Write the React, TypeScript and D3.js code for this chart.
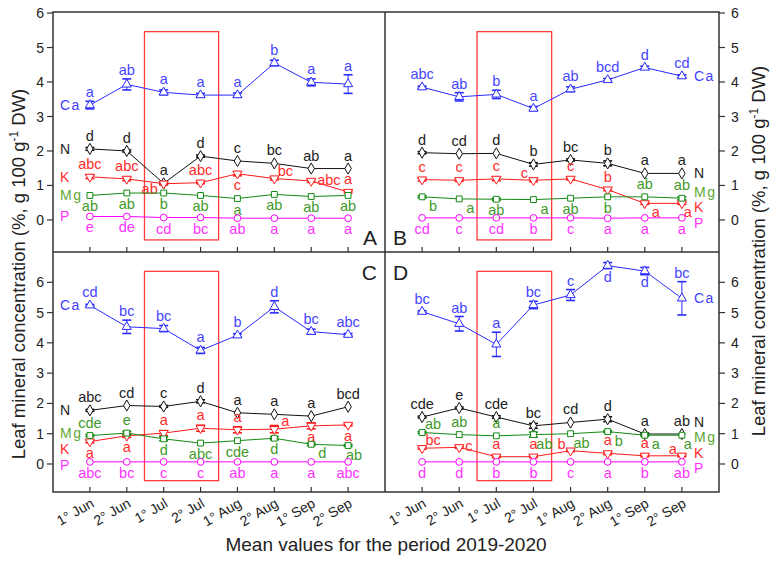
import React, { useEffect, useRef } from "react";
import * as d3 from "d3";

// sampling periods (x axis)
const periods = ["1° Jun", "2° Jun", "1° Jul", "2° Jul", "1° Aug", "2° Aug", "1° Sep", "2° Sep"];
const yTicks = [0, 1, 2, 3, 4, 5, 6];

// panel A
const caA = [3.33, 3.93, 3.7, 3.62, 3.62, 4.55, 3.99, 3.94];
const caAErr = [0.11, 0.16, 0.07, 0.05, 0.06, 0.08, 0.1, 0.27];
const caALet = ["a", "ab", "a", "a", "a", "b", "a", "a"];
const nA = [2.06, 2.0, 1.06, 1.85, 1.71, 1.64, 1.49, 1.49];
const nAErr = [0.04, 0.03, 0.03, 0.03, 0.02, 0.02, 0.02, 0.02];
const nALet = ["d", "d", "a", "d", "c", "bc", "ab", "a"];
const kA = [1.25, 1.19, 1.05, 1.08, 1.34, 1.2, 1.13, 0.81];
const kAErr = [0.05, 0.05, 0.03, 0.03, 0.06, 0.04, 0.04, 0.03];
const kALet = ["abc", "abc", "ab", "abc", "c", "bc", "abc", "a"];
const mgA = [0.71, 0.78, 0.78, 0.71, 0.62, 0.74, 0.68, 0.71];
const mgAErr = [0.02, 0.02, 0.02, 0.02, 0.02, 0.02, 0.02, 0.02];
const mgALet = ["ab", "ab", "b", "ab", "a", "ab", "ab", "ab"];
const pA = [0.1, 0.1, 0.07, 0.07, 0.05, 0.05, 0.05, 0.05];
const pALet = ["e", "de", "cd", "bc", "ab", "a", "a", "a"];

// panel B
const caB = [3.85, 3.57, 3.64, 3.23, 3.79, 4.06, 4.42, 4.17];
const caBErr = [0.03, 0.12, 0.12, 0.06, 0.07, 0.04, 0.04, 0.04];
const caBLet = ["abc", "ab", "b", "a", "ab", "bcd", "d", "cd"];
const nB = [1.95, 1.92, 1.93, 1.61, 1.74, 1.64, 1.35, 1.35];
const nBErr = [0.03, 0.02, 0.02, 0.05, 0.03, 0.07, 0.02, 0.02];
const nBLet = ["d", "cd", "d", "b", "bc", "b", "a", "a"];
const kB = [1.17, 1.15, 1.19, 1.15, 1.19, 0.88, 0.48, 0.48];
const kBErr = [0.04, 0.03, 0.05, 0.04, 0.03, 0.03, 0.03, 0.03];
const kBLet = ["c", "c", "c", "c", "c", "b", "a", "a"];
const mgB = [0.67, 0.61, 0.6, 0.59, 0.63, 0.67, 0.67, 0.63];
const mgBErr = [0.03, 0.02, 0.03, 0.02, 0.02, 0.02, 0.02, 0.04];
const mgBLet = ["b", "a", "ab", "a", "ab", "b", "ab", "ab"];
const pB = [0.06, 0.06, 0.06, 0.06, 0.06, 0.05, 0.06, 0.06];
const pBLet = ["cd", "c", "cd", "b", "c", "a", "a", "a"];

// panel C
const caC = [5.24, 4.53, 4.47, 3.75, 4.25, 5.19, 4.37, 4.27];
const caCErr = [0.03, 0.22, 0.1, 0.1, 0.05, 0.2, 0.08, 0.04];
const caCLet = ["cd", "bc", "bc", "a", "b", "d", "bc", "abc"];
const nC = [1.77, 1.93, 1.9, 2.07, 1.69, 1.64, 1.58, 1.89];
const nCErr = [0.03, 0.02, 0.03, 0.05, 0.02, 0.02, 0.02, 0.02];
const nCLet = ["abc", "cd", "c", "d", "a", "a", "a", "bcd"];
const kC = [0.74, 0.93, 1.02, 1.18, 1.13, 1.15, 1.26, 1.29];
const kCErr = [0.04, 0.05, 0.08, 0.1, 0.1, 0.12, 0.1, 0.03];
const kCLet = ["a", "a", "a", "a", "a", "a", "a", "a"];
const mgC = [0.94, 1.02, 0.83, 0.69, 0.77, 0.85, 0.65, 0.61];
const mgCErr = [0.03, 0.06, 0.06, 0.02, 0.02, 0.05, 0.04, 0.03];
const mgCLet = ["cde", "e", "d", "abc", "cde", "d", "d", "ab"];
const pC = [0.07, 0.07, 0.07, 0.07, 0.07, 0.07, 0.07, 0.07];
const pCLet = ["abc", "bc", "c", "c", "ab", "a", "a", "abc"];

// panel D
const caD = [5.03, 4.63, 3.95, 5.25, 5.58, 6.55, 6.37, 5.47];
const caDErr = [0.03, 0.24, 0.4, 0.12, 0.18, 0.1, 0.12, 0.55];
const caDLet = ["bc", "ab", "a", "bc", "c", "d", "d", "bc"];
const nD = [1.55, 1.85, 1.55, 1.26, 1.37, 1.48, 0.99, 0.99];
const nDErr = [0.03, 0.03, 0.04, 0.08, 0.02, 0.08, 0.03, 0.02];
const nDLet = ["cde", "e", "cde", "bc", "cd", "d", "a", "ab"];
const kD = [0.52, 0.55, 0.24, 0.24, 0.44, 0.35, 0.27, 0.27];
const kDErr = [0.03, 0.03, 0.03, 0.03, 0.03, 0.04, 0.03, 0.03];
const kDLet = ["bc", "c", "a", "a", "b", "a", "a", "a"];
const mgD = [1.04, 0.97, 0.93, 0.97, 1.0, 1.07, 0.95, 0.95];
const mgDErr = [0.03, 0.02, 0.02, 0.08, 0.02, 0.03, 0.03, 0.02];
const mgDLet = ["ab", "ab", "a", "ab", "ab", "b", "a", "a"];
const pD = [0.07, 0.07, 0.07, 0.07, 0.07, 0.07, 0.07, 0.07];
const pDLet = ["d", "d", "b", "b", "c", "a", "b", "ab"];

// highlighted period (1° Jul - 2° Jul)
const boxX = [1.48, 3.49];

const FONT = "Arial, 'Liberation Sans', sans-serif";

const styles = {
  Ca: { line: "#2a2aff", text: "#4646ff", sym: "tri" },
  N: { line: "#111111", text: "#222222", sym: "dia" },
  K: { line: "#ff1a1a", text: "#ff2b2b", sym: "tridown" },
  Mg: { line: "#138a13", text: "#3f9a2a", sym: "sq" },
  P: { line: "#ff00ff", text: "#ff33ff", sym: "circ" },
};
const labelColor = { Ca: "#4040ff", N: "#222222", K: "#ff2b2b", Mg: "#5ea832", P: "#ff33ff" };

const T = (n: number) => Array(n).fill("t");
const B = (n: number) => Array(n).fill("b");

// letter placement per panel (layout only)
const place = {
  A: { Ca: T(8), N: T(8), K: ["t", "t", "bl", "t", "b", "tr", "r", "t"], Mg: B(8), P: B(8) },
  B: { Ca: T(8), N: T(8), K: ["t", "t", "t", "tl", "t", "t", "br", "br"], Mg: ["br", "br", "b", "br", "b", "b", "t", "t"], P: B(8) },
  C: { Ca: T(8), N: T(8), K: ["b", "b", "t", "t", "t", "tr", "b", "b"], Mg: ["t", "t", "b", "b", "b", "b", "br", "br"], P: B(8) },
  D: { Ca: ["t", "t", "t", "t", "t", "b", "b", "t"], N: T(8), K: ["tr", "r", "t", "t", "tl", "t", "t", "tl"], Mg: ["tr", "t", "t", "br", "br", "br", "br", "br"], P: B(8) },
};
const labelDy = {
  A: { Ca: 0, N: 0, K: 0, Mg: 0, P: 0 },
  B: { Ca: 0, N: 0, K: 4, Mg: -6, P: 5 },
  C: { Ca: 0, N: 0, K: 8, Mg: -2, P: 3 },
  D: { Ca: 0, N: -12, K: -3, Mg: 2, P: 6 },
};

const zeros = Array(8).fill(0);

const panels = [
  {
    id: "A", col: 0, row: 0, labelSide: "left",
    series: [
      { name: "Ca", v: caA, e: caAErr, l: caALet },
      { name: "N", v: nA, e: nAErr, l: nALet },
      { name: "K", v: kA, e: kAErr, l: kALet },
      { name: "Mg", v: mgA, e: mgAErr, l: mgALet },
      { name: "P", v: pA, e: zeros, l: pALet },
    ],
  },
  {
    id: "B", col: 1, row: 0, labelSide: "right",
    series: [
      { name: "Ca", v: caB, e: caBErr, l: caBLet },
      { name: "N", v: nB, e: nBErr, l: nBLet },
      { name: "K", v: kB, e: kBErr, l: kBLet },
      { name: "Mg", v: mgB, e: mgBErr, l: mgBLet },
      { name: "P", v: pB, e: zeros, l: pBLet },
    ],
  },
  {
    id: "C", col: 0, row: 1, labelSide: "left",
    series: [
      { name: "Ca", v: caC, e: caCErr, l: caCLet },
      { name: "N", v: nC, e: nCErr, l: nCLet },
      { name: "K", v: kC, e: kCErr, l: kCLet },
      { name: "Mg", v: mgC, e: mgCErr, l: mgCLet },
      { name: "P", v: pC, e: zeros, l: pCLet },
    ],
  },
  {
    id: "D", col: 1, row: 1, labelSide: "right",
    series: [
      { name: "Ca", v: caD, e: caDErr, l: caDLet },
      { name: "N", v: nD, e: nDErr, l: nDLet },
      { name: "K", v: kD, e: kDErr, l: kDLet },
      { name: "Mg", v: mgD, e: mgDErr, l: mgDLet },
      { name: "P", v: pD, e: zeros, l: pDLet },
    ],
  },
];

const App = () => {
  const ref = useRef<SVGSVGElement>(null);
  const width = 770;
  const height = 567;

  useEffect(() => {
    const svg = d3.select(ref.current);
    svg.selectAll("*").remove();

    const left = 53, mid = 385, right = 719;
    const top = 12, midY = 252, bottom = 492;

    const xScales = [
      d3.scaleLinear().domain([-1, 8]).range([left, mid]),
      d3.scaleLinear().domain([-1, 8]).range([mid, right]),
    ];
    const yScales = [
      d3.scaleLinear().domain([-0.93, 6.03]).range([midY, top]),
      d3.scaleLinear().domain([-0.925, 7.0]).range([bottom, midY]),
    ];
    const boxY = [[-0.58, 5.46], [-0.55, 6.36]];

    const symFor = (s: string) => {
      if (s === "tri" || s === "tridown") return d3.symbol().type(d3.symbolTriangle).size(36)();
      if (s === "dia") return d3.symbol().type(d3.symbolDiamond).size(36)();
      if (s === "sq") return d3.symbol().type(d3.symbolSquare).size(34)();
      return d3.symbol().type(d3.symbolCircle).size(36)();
    };

    panels.forEach((p) => {
      const x = xScales[p.col];
      const y = yScales[p.row];
      const g = svg.append("g");

      // highlight box
      g.append("rect")
        .attr("x", x(boxX[0]))
        .attr("y", y(boxY[p.row][1]))
        .attr("width", x(boxX[1]) - x(boxX[0]))
        .attr("height", y(boxY[p.row][0]) - y(boxY[p.row][1]))
        .attr("fill", "none")
        .attr("stroke", "#ff3b3b")
        .attr("stroke-width", 1.3);

      p.series.forEach((s) => {
        const st = (styles as any)[s.name];
        const line = d3.line<number>().x((_, i) => x(i)).y((d) => y(d));
        g.append("path")
          .attr("d", line(s.v))
          .attr("fill", "none")
          .attr("stroke", st.line)
          .attr("stroke-width", 1);

        // error bars
        s.v.forEach((v, i) => {
          const e = s.e[i];
          if (e < 0.025) return;
          const cx = x(i);
          g.append("line").attr("x1", cx).attr("x2", cx).attr("y1", y(v - e)).attr("y2", y(v + e))
            .attr("stroke", st.line).attr("stroke-width", 1);
          [v - e, v + e].forEach((yy) => {
            g.append("line").attr("x1", cx - 4.5).attr("x2", cx + 4.5).attr("y1", y(yy)).attr("y2", y(yy))
              .attr("stroke", st.line).attr("stroke-width", 1.6);
          });
        });

        // markers
        g.selectAll(null)
          .data(s.v)
          .join("path")
          .attr("d", symFor(st.sym))
          .attr("transform", (d, i) => `translate(${x(i)},${y(d)})${st.sym === "tridown" ? " rotate(180)" : ""}`)
          .attr("fill", "white")
          .attr("stroke", st.line)
          .attr("stroke-width", 1);

        // significance letters
        const pl = (place as any)[p.id][s.name] as string[];
        s.v.forEach((v, i) => {
          const px = x(i);
          const py = y(v);
          const eTop = Math.min(py - 4, y(v + s.e[i]));
          const eBot = Math.max(py + 4, y(v - s.e[i]));
          let tx = px, ty = py, anchor = "middle";
          switch (pl[i]) {
            case "t": ty = eTop - 4; break;
            case "b": ty = eBot + 12; break;
            case "tr": tx = px + 11; ty = py - 3; break;
            case "tl": tx = px - 9; ty = py - 2; break;
            case "br": tx = px + (i === 7 ? 6 : 11); ty = py + 14; break;
            case "bl": tx = px - 14; ty = py + 10; break;
            case "r": tx = px + 6; ty = py + 4; anchor = "start"; break;
          }
          g.append("text")
            .attr("x", tx)
            .attr("y", ty)
            .attr("text-anchor", anchor)
            .attr("font-family", FONT)
            .attr("font-size", 14.5)
            .attr("fill", st.text)
            .text(s.l[i]);
        });

        // series name
        const idx = p.labelSide === "left" ? 0 : 7;
        g.append("text")
          .attr("x", p.labelSide === "left" ? 60 : 694)
          .attr("y", y(s.v[idx]) + (labelDy as any)[p.id][s.name])
          .attr("dy", "0.35em")
          .attr("font-family", FONT)
          .attr("font-size", 14)
          .attr("letter-spacing", s.name === "Ca" || s.name === "Mg" ? 1.5 : 0)
          .attr("fill", labelColor[s.name as keyof typeof labelColor])
          .text(s.name);
      });

      // x ticks (inward)
      const yb = y.range()[0];
      g.selectAll(null)
        .data(periods)
        .join("line")
        .attr("x1", (_, i) => x(i))
        .attr("x2", (_, i) => x(i))
        .attr("y1", yb)
        .attr("y2", yb - 5)
        .attr("stroke", "#333")
        .attr("stroke-width", 1.2);

      if (p.row === 1) {
        g.selectAll(null)
          .data(periods)
          .join("text")
          .attr("transform", (_, i) => `translate(${x(i) + 5},${yb + 14}) rotate(-30)`)
          .attr("text-anchor", "end")
          .attr("font-family", FONT)
          .attr("font-size", 14)
          .attr("fill", "#222")
          .text((d) => d);
      }

      // y axis ticks
      const ax = p.col === 0 ? left : right;
      const dir = p.col === 0 ? -1 : 1;
      g.selectAll(null)
        .data(yTicks)
        .join("line")
        .attr("x1", ax)
        .attr("x2", ax + dir * 6)
        .attr("y1", (d) => y(d))
        .attr("y2", (d) => y(d))
        .attr("stroke", "#333")
        .attr("stroke-width", 1.2);
      g.selectAll(null)
        .data(yTicks)
        .join("text")
        .attr("x", p.col === 0 ? 44 : 731)
        .attr("y", (d) => y(d))
        .attr("dy", "0.36em")
        .attr("text-anchor", p.col === 0 ? "end" : "start")
        .attr("font-family", FONT)
        .attr("font-size", 14)
        .attr("fill", "#222")
        .text((d) => d);

      // panel letter
      const lx = p.col === 0 ? mid - 8 : mid + 8;
      const ly = p.row === 0 ? midY - 7 : midY + 28;
      g.append("text")
        .attr("x", lx)
        .attr("y", ly)
        .attr("text-anchor", p.col === 0 ? "end" : "start")
        .attr("font-family", FONT)
        .attr("font-size", 21)
        .attr("fill", "#222")
        .text(p.id);
    });

    // frame
    const frame = svg.append("g").attr("fill", "none").attr("stroke", "#333").attr("stroke-width", 1.5);
    frame.append("rect").attr("x", left).attr("y", top).attr("width", right - left).attr("height", bottom - top);
    frame.append("line").attr("x1", mid).attr("x2", mid).attr("y1", top).attr("y2", bottom);
    frame.append("line").attr("x1", left).attr("x2", right).attr("y1", midY).attr("y2", midY);

    // axis titles
    svg.append("text")
      .attr("x", 386)
      .attr("y", 551)
      .attr("text-anchor", "middle")
      .attr("font-family", FONT)
      .attr("font-size", 19)
      .attr("fill", "#222")
      .text("Mean values for the period 2019-2020");

    const yTitle = (cx: number, cy: number) => {
      const t = svg.append("text")
        .attr("transform", `translate(${cx},${cy}) rotate(-90)`)
        .attr("text-anchor", "middle")
        .attr("font-family", FONT)
        .attr("font-size", 18.5)
        .attr("fill", "#222");
      t.append("tspan").text("Leaf mineral concentration (%, g 100 g");
      t.append("tspan").attr("dy", -7).attr("font-size", 12).text("-1");
      t.append("tspan").attr("dy", 7).text(" DW)");
    };
    yTitle(25, 274);
    yTitle(765, 251);
  }, []);

  return (
    <svg
      ref={ref}
      width={width}
      height={height}
      style={{ position: "fixed", left: 0, top: 0, display: "block", background: "white" }}
    />
  );
};

export default App;
